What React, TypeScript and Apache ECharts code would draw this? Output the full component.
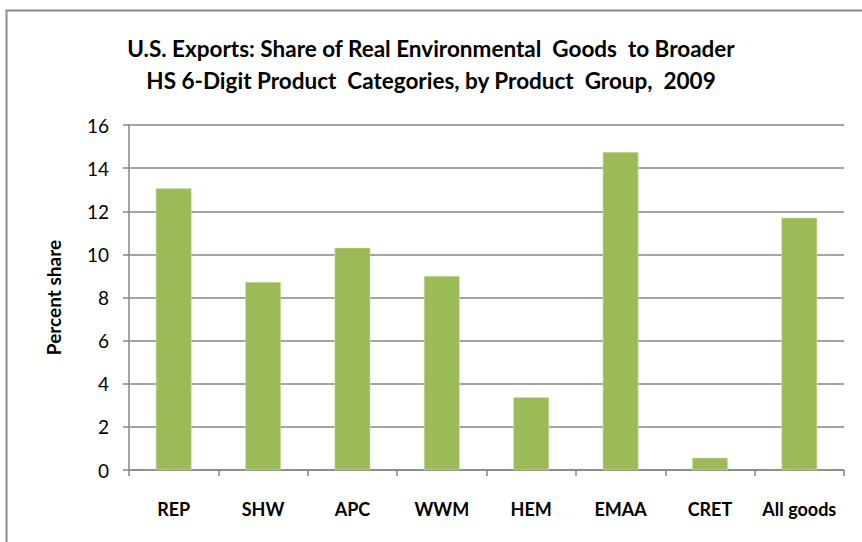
import React, { useEffect, useRef } from "react";
import * as echarts from "echarts";

const categories = ["REP", "SHW", "APC", "WWM", "HEM", "EMAA", "CRET", "All goods"];
const shareValues = [13.07, 8.72, 10.31, 9.0, 3.37, 14.75, 0.57, 11.7];
const titleLines = [
  "U.S. Exports: Share of Real Environmental  Goods  to Broader",
  "HS 6-Digit Product  Categories, by Product  Group,  2009",
];
const yAxisTitle = "Percent share";

const FONT = "Lato, 'Open Sans', sans-serif";

export default function App() {
  const ref = useRef<HTMLDivElement>(null);
  useEffect(() => {
    if (!ref.current) return;
    const chart = echarts.init(ref.current, null, { renderer: "svg" });
    chart.setOption({
      animation: false,
      backgroundColor: "#ffffff",
      graphic: [
        {
          type: "rect",
          shape: { x: 6.5, y: 10.5, width: 900, height: 600 },
          style: { fill: "none", stroke: "#8c8c8c", lineWidth: 2 },
          silent: true,
        },
      ],
      title: {
        text: titleLines.join("\n"),
        left: "center",
        top: 27,
        textStyle: {
          fontFamily: FONT,
          fontSize: 22.5,
          fontWeight: "bold",
          color: "#000",
          lineHeight: 32,
        },
      },
      grid: { left: 129, right: 18, top: 125, bottom: 72 },
      xAxis: {
        type: "category",
        data: categories,
        boundaryGap: true,
        axisLine: { show: true, lineStyle: { color: "#868686", width: 1.5 } },
        axisTick: { show: true, length: 6, inside: false, lineStyle: { color: "#868686", width: 1.5 } },
        axisLabel: {
          interval: 0,
          margin: 30,
          fontFamily: FONT,
          fontSize: 18,
          fontWeight: "bold",
          color: "#000",
        },
      },
      yAxis: {
        type: "value",
        min: 0,
        max: 16,
        interval: 2,
        name: yAxisTitle,
        nameLocation: "middle",
        nameGap: 66,
        nameTextStyle: { fontFamily: FONT, fontSize: 19, fontWeight: "bold", color: "#000" },
        axisLine: { show: true, lineStyle: { color: "#868686", width: 1.5 } },
        axisTick: { show: true, length: 6, lineStyle: { color: "#868686", width: 1.5 } },
        splitLine: { show: true, lineStyle: { color: "#868686", width: 1.5 } },
        axisLabel: {
          margin: 20,
          fontFamily: FONT,
          fontSize: 19,
          color: "#000",
        },
      },
      series: [
        {
          type: "bar",
          data: shareValues,
          barWidth: "40%",
          itemStyle: { color: "#9bbb59", borderColor: "#d7e4bd", borderWidth: 0.5 },
        },
      ],
    });
    return () => chart.dispose();
  }, []);
  return (
    <div
      ref={ref}
      style={{ position: "fixed", left: 0, top: 0, width: 862, height: 542 }}
    />
  );
}
